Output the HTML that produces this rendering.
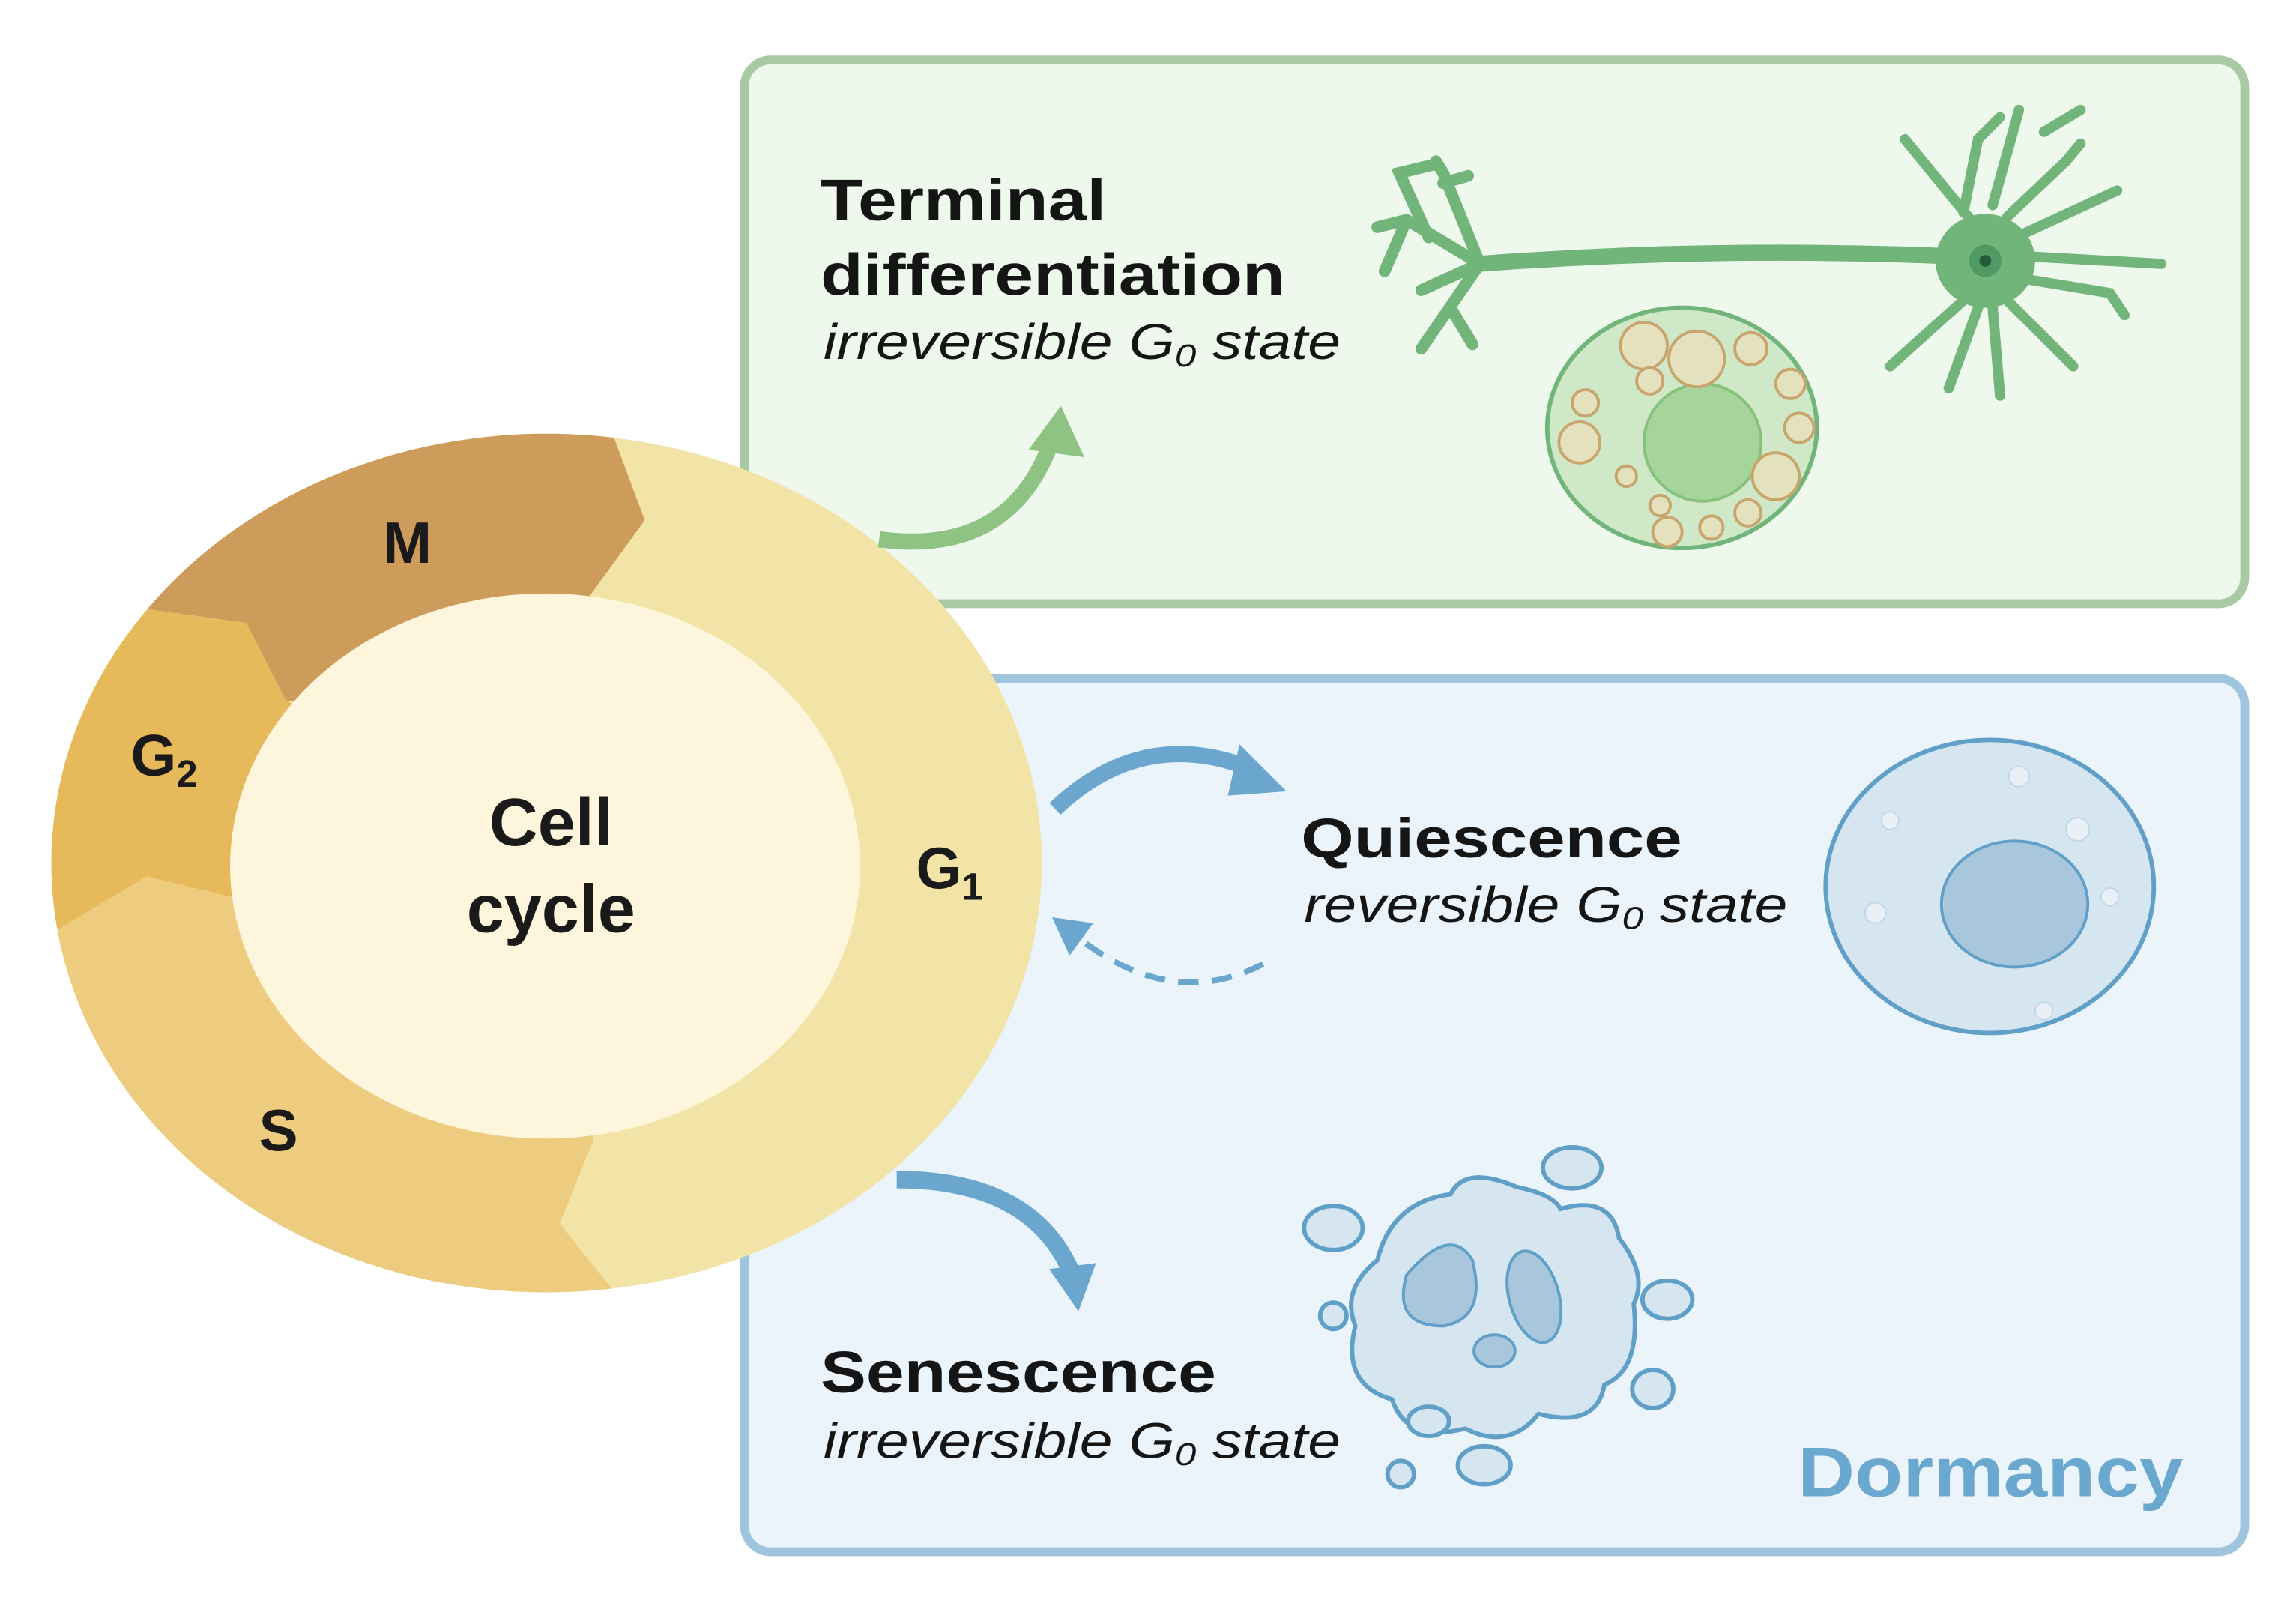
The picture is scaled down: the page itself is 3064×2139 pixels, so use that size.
<!DOCTYPE html>
<html><head><meta charset="utf-8"><style>
html,body{margin:0;padding:0;background:#fff}
svg{display:block}
text{font-family:"Liberation Sans",sans-serif}
</style></head><body>
<svg width="3064" height="2139" viewBox="0 0 1567 1094" xmlns="http://www.w3.org/2000/svg">
<defs>
<clipPath id="outer"><ellipse cx="373" cy="589" rx="338" ry="293"/></clipPath>
</defs>
<rect width="1567" height="1094" fill="#fff"/>
<rect x="508" y="41" width="1024" height="371" rx="18" fill="#eff8ec" stroke="#a9c9a2" stroke-width="6"/>
<rect x="508" y="463" width="1024" height="596" rx="18" fill="#ebf3fb" stroke="#9ec4de" stroke-width="6"/>

<g clip-path="url(#outer)">
<rect x="0" y="280" width="720" height="620" fill="#f2e3a6"/>
<polygon points="0,0 418,0 418,296 440,355 400,410 372,500 195,478 168,425 95,415 0,415" fill="#cd9c5b"/>
<polygon points="0,415 95,415 168,425 195,478 372,560 157,612 100,598 30,640 0,640" fill="#e6b95a"/>
<polygon points="0,640 30,640 100,598 157,612 372,600 405,778 382,835 422,885 422,1000 0,1000" fill="#eecc7f"/>
</g>
<ellipse cx="372" cy="591" rx="215" ry="186" fill="#fdf6dc"/>
<g font-weight="bold" fill="#1a1a1a" text-anchor="middle">
<text x="278" y="384" font-size="40">M</text>
<text x="112" y="529" font-size="40">G<tspan font-size="26" dy="8">2</tspan></text>
<text x="190" y="785" font-size="40">S</text>
<text x="648" y="606" font-size="40">G<tspan font-size="26" dy="8">1</tspan></text>
<text x="376" y="577" font-size="46">Cell</text>
<text x="376" y="636" font-size="46">cycle</text>
</g>

<g fill="#151515">
<text x="560" y="150" font-size="40" font-weight="bold" textLength="195" lengthAdjust="spacingAndGlyphs">Terminal</text>
<text x="560" y="201" font-size="40" font-weight="bold" textLength="317" lengthAdjust="spacingAndGlyphs">differentiation</text>
<text x="562" y="245" font-size="34" font-style="italic" textLength="353" lengthAdjust="spacingAndGlyphs">irreversible G<tspan font-size="22" dy="5">0</tspan><tspan dy="-5"> state</tspan></text>
<text x="888" y="585" font-size="38" font-weight="bold" textLength="260" lengthAdjust="spacingAndGlyphs">Quiescence</text>
<text x="890" y="629" font-size="34" font-style="italic" textLength="330" lengthAdjust="spacingAndGlyphs">reversible G<tspan font-size="22" dy="5">0</tspan><tspan dy="-5"> state</tspan></text>
<text x="560" y="950" font-size="40" font-weight="bold" textLength="270" lengthAdjust="spacingAndGlyphs">Senescence</text>
<text x="562" y="995" font-size="34" font-style="italic" textLength="353" lengthAdjust="spacingAndGlyphs">irreversible G<tspan font-size="22" dy="5">0</tspan><tspan dy="-5"> state</tspan></text>
</g>
<text x="1227" y="1021" font-size="48" font-weight="bold" fill="#6ba8d0" textLength="263" lengthAdjust="spacingAndGlyphs">Dormancy</text>

<path d="M600,368 Q690,380 718,300" fill="none" stroke="#8ec383" stroke-width="11"/>
<polygon points="702,307 724,277 740,312" fill="#8ec383"/>
<path d="M720,552 Q780,495 855,525" fill="none" stroke="#6aa6ce" stroke-width="11"/>
<polygon points="846,508 878,540 838,543" fill="#6aa6ce"/>
<path d="M862,658 Q800,690 736,640" fill="none" stroke="#6aa6ce" stroke-width="4" stroke-dasharray="14,9"/>
<polygon points="718,626 746,630 730,652" fill="#6aa6ce"/>
<path d="M612,805 Q705,805 732,870" fill="none" stroke="#6aa6ce" stroke-width="12"/>
<polygon points="716,866 748,862 736,895" fill="#6aa6ce"/>

<g stroke="#72b57b" fill="none" stroke-linecap="round">
<path d="M1010,180 Q1170,168 1335,175" stroke-width="11"/>
<path d="M1010,180 L960,150 L940,155 M975,162 L955,118 L980,112 M960,150 L945,185 M1010,180 L985,118 L980,110 M985,125 L1002,120 M1010,180 L970,238 M990,210 L1005,235 M1010,180 L970,198" stroke-width="8"/>
<path d="M1345,150 L1300,95 M1340,145 L1350,95 L1365,80 M1360,140 L1378,75 M1370,148 L1410,110 L1420,98 M1380,160 L1445,130 M1385,175 L1475,180 M1380,190 L1440,200 L1450,215 M1370,205 L1415,250 M1360,210 L1365,270 M1350,210 L1330,265 M1340,205 L1290,250 M1395,90 L1420,75" stroke-width="7"/>
</g>
<ellipse cx="1355" cy="178" rx="34" ry="32" fill="#72b57b"/>
<circle cx="1355" cy="178" r="11" fill="#4e9a62"/>
<circle cx="1355" cy="178" r="4" fill="#235a3c"/>

<ellipse cx="1148" cy="292" rx="92" ry="82" fill="#cfe9c8" stroke="#72b57b" stroke-width="3"/>
<circle cx="1162" cy="302" r="40" fill="#a6d59c" stroke="#86c27e" stroke-width="2"/>
<g fill="#e4e2be" stroke="#c9a56e" stroke-width="2">
<circle cx="1122" cy="236" r="16"/><circle cx="1158" cy="245" r="19"/><circle cx="1195" cy="238" r="11"/>
<circle cx="1222" cy="262" r="10"/><circle cx="1228" cy="292" r="10"/><circle cx="1212" cy="325" r="16"/>
<circle cx="1193" cy="350" r="9"/><circle cx="1168" cy="360" r="8"/><circle cx="1138" cy="363" r="10"/>
<circle cx="1133" cy="345" r="7"/><circle cx="1110" cy="325" r="7"/><circle cx="1078" cy="302" r="14"/>
<circle cx="1082" cy="275" r="9"/><circle cx="1126" cy="260" r="9"/>
</g>

<ellipse cx="1358" cy="605" rx="112" ry="100" fill="#d6e6f0" stroke="#5f9fc8" stroke-width="3"/>
<ellipse cx="1375" cy="617" rx="50" ry="43" fill="#a8c6dc" stroke="#5f9fc8" stroke-width="2"/>
<g fill="#e9f1f6" stroke="#c0d7e5"><circle cx="1290" cy="560" r="6"/><circle cx="1418" cy="566" r="8"/><circle cx="1280" cy="623" r="7"/><circle cx="1440" cy="612" r="6"/><circle cx="1378" cy="530" r="7"/><circle cx="1395" cy="690" r="6"/></g>

<path d="M940,860 Q950,820 990,815 Q1000,795 1035,810 Q1060,815 1065,825 Q1100,815 1105,845 Q1125,870 1115,890 Q1120,935 1095,945 Q1090,975 1050,965 Q1030,990 1000,975 Q960,985 950,955 Q915,945 925,905 Q915,880 940,860 Z" fill="#d6e6f0" stroke="#5f9fc8" stroke-width="3"/>
<path d="M960,870 Q990,835 1005,860 Q1015,900 985,905 Q950,905 960,870Z" fill="#a8c6dc" stroke="#5f9fc8" stroke-width="2"/>
<ellipse cx="1047" cy="885" rx="17" ry="32" transform="rotate(-15 1047 885)" fill="#a8c6dc" stroke="#5f9fc8" stroke-width="2"/>
<ellipse cx="1020" cy="922" rx="14" ry="11" fill="#a8c6dc" stroke="#5f9fc8" stroke-width="2"/>
<g fill="#d6e6f0" stroke="#5f9fc8" stroke-width="3">
<ellipse cx="1073" cy="797" rx="20" ry="14"/><ellipse cx="910" cy="838" rx="20" ry="15"/><circle cx="910" cy="898" r="9"/>
<ellipse cx="1138" cy="887" rx="17" ry="13"/><ellipse cx="1128" cy="948" rx="14" ry="13"/><ellipse cx="975" cy="970" rx="14" ry="10"/>
<circle cx="956" cy="1006" r="9"/><ellipse cx="1013" cy="1000" rx="18" ry="13"/>
</g>
</svg>
</body></html>
